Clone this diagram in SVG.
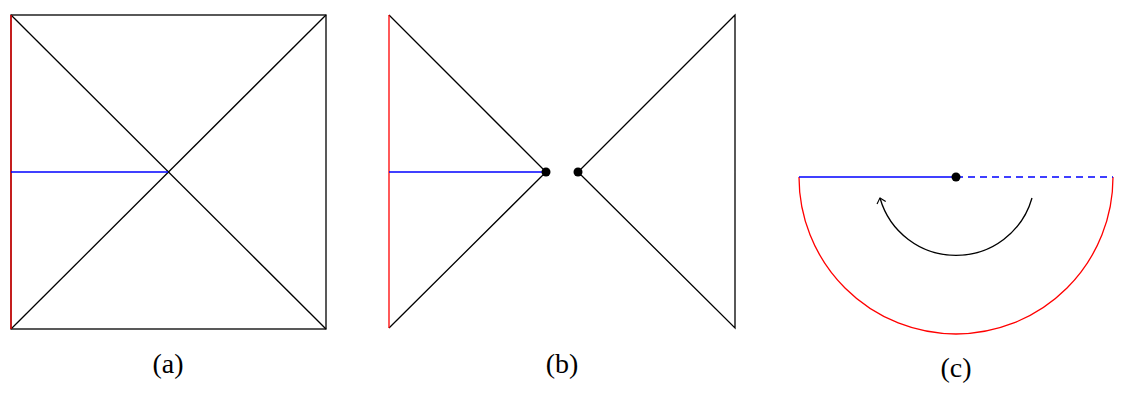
<svg xmlns="http://www.w3.org/2000/svg" width="1124" height="404" viewBox="0 0 1124 404">
<style>
.k{stroke:#000;stroke-width:1.3;fill:none}
.r{stroke:#f00;stroke-width:1.3;fill:none}
.b{stroke:#00f;stroke-width:1.3;fill:none}
.lbl{font-family:"Liberation Serif","DejaVu Serif",serif;font-size:28px;fill:#000;text-anchor:middle}
</style>
<defs>
<marker id="to" viewBox="-6 -6 8 12" markerWidth="8" markerHeight="12" refX="0" refY="0" orient="auto" markerUnits="userSpaceOnUse">
<path d="M-5,-4.5 Q-1,-1 0,0 Q-1,1 -5,4.5" stroke="#000" stroke-width="1.2" fill="none"/>
</marker>
</defs>
<g id="panel-a">
<rect class="k" x="11" y="15" width="315" height="314"/>
<line class="k" x1="11" y1="15" x2="326" y2="329"/>
<line class="k" x1="326" y1="15" x2="11" y2="329"/>
<line class="r" x1="11" y1="15" x2="11" y2="329"/>
<line class="b" x1="11" y1="172" x2="168" y2="172"/>
<text class="lbl" x="168" y="373">(a)</text>
</g>
<g id="panel-b">
<polyline class="k" points="389,15 546,172 389,328"/>
<line class="r" x1="389" y1="15" x2="389" y2="328"/>
<line class="b" x1="389" y1="172" x2="546" y2="172"/>
<circle cx="546" cy="172" r="4.5" fill="#000"/>
<polygon class="k" points="735,15 578,172 735,328"/>
<circle cx="578" cy="172" r="4.5" fill="#000"/>
<text class="lbl" x="562" y="373">(b)</text>
</g>
<g id="panel-c">
<path class="r" d="M799,177 A157,157 0 0 0 1113,177"/>
<line class="b" x1="799" y1="177" x2="956" y2="177"/>
<line class="b" x1="956" y1="177" x2="1113" y2="177" stroke-dasharray="7,5"/>
<circle cx="956" cy="177" r="4.5" fill="#000"/>
<path class="k" d="M1032,198 A79,79 0 0 1 880,198" marker-end="url(#to)"/>
<text class="lbl" x="956" y="377">(c)</text>
</g>
</svg>
